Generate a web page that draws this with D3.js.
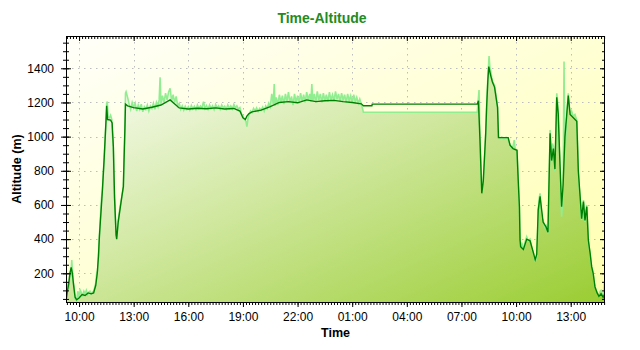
<!DOCTYPE html>
<html>
<head>
<meta charset="utf-8">
<script src="https://cdn.jsdelivr.net/npm/d3@7"></script>
<style>
  body { margin: 0; background: #fff; }
  svg { display: block; font-family: 'Liberation Sans', Arial, sans-serif; }
  .tick text { font-size: 12px; fill: #000; }
  .tick line { stroke: #000; }
</style>
</head>
<body>
<svg id="chart" width="640" height="350"></svg>
<script>
'use strict';

// chart texts
const chartTitle = 'Time-Altitude';
const xTitle = 'Time';
const yTitle = 'Altitude (m)';

// time window shown: [HH:MM, day]
const timeWindow = [['09:17', 0], ['14:53', 1]];
const altitudeWindow = [32, 1589];
const altitudeMajorStep = 200;
const altitudeMinorStep = 50;

// light green series: [HH:MM, metres], rolls over midnight once
const altitudeA = [
  ['09:17', 40], ['09:20', 95], ['09:24', 150], ['09:27', 110], ['09:30', 210], ['09:33', 180],
  ['09:36', 278], ['09:40', 160], ['09:44', 120], ['09:47', 50], ['09:52', 40], ['09:56', 95],
  ['10:00', 60], ['10:04', 100], ['10:08', 85], ['10:12', 70], ['10:16', 95], ['10:20', 80],
  ['10:24', 100], ['10:28', 75], ['10:32', 90], ['10:36', 95], ['10:40', 80], ['10:44', 90],
  ['10:48', 95], ['10:52', 120], ['10:55', 143], ['10:58', 200], ['11:01', 215], ['11:04', 307],
  ['11:07', 414], ['11:10', 520], ['11:14', 640], ['11:17', 688], ['11:20', 786], ['11:23', 880],
  ['11:26', 980], ['11:29', 1100], ['11:31', 1195], ['11:33', 1205], ['11:36', 1115], ['11:40', 1110],
  ['11:44', 1125], ['11:48', 1100], ['11:50', 1010], ['11:53', 941], ['11:55', 746], ['12:00', 512],
  ['12:02', 424], ['12:04', 414], ['12:06', 440], ['12:09', 512], ['12:15', 590], ['12:21', 649],
  ['12:26', 707], ['12:28', 844], ['12:31', 1039], ['12:33', 1254], ['12:35', 1263],
  ['12:40', 1230], ['12:45', 1190], ['12:50', 1160], ['12:55', 1200], ['13:00', 1170], ['13:05', 1195],
  ['13:10', 1150], ['13:15', 1185], ['13:20', 1160], ['13:25', 1190], ['13:30', 1145], ['13:35', 1175],
  ['13:40', 1160], ['13:45', 1185], ['13:50', 1150], ['13:55', 1180], ['14:00', 1165], ['14:05', 1195],
  ['14:10', 1160], ['14:15', 1200], ['14:20', 1175], ['14:24', 1215], ['14:27', 1348], ['14:30', 1190],
  ['14:35', 1240], ['14:40', 1200], ['14:45', 1255], ['14:50', 1215], ['14:55', 1260], ['15:00', 1283],
  ['15:05', 1210], ['15:10', 1245], ['15:15', 1200], ['15:20', 1235], ['15:25', 1180], ['15:30', 1195],
  ['15:35', 1160], ['15:40', 1180], ['15:45', 1155], ['15:50', 1178], ['15:55', 1160], ['16:00', 1175],
  ['16:05', 1155], ['16:10', 1182], ['16:15', 1162], ['16:20', 1178], ['16:25', 1158], ['16:30', 1185],
  ['16:35', 1165], ['16:40', 1180], ['16:45', 1168], ['16:50', 1205], ['16:55', 1165], ['17:00', 1182],
  ['17:05', 1160], ['17:10', 1185], ['17:15', 1165], ['17:20', 1180], ['17:25', 1158], ['17:30', 1188],
  ['17:35', 1168], ['17:40', 1180], ['17:45', 1160], ['17:50', 1185], ['17:55', 1168], ['18:00', 1178],
  ['18:05', 1160], ['18:10', 1185], ['18:15', 1165], ['18:20', 1180], ['18:25', 1162], ['18:30', 1188],
  ['18:35', 1168], ['18:40', 1180], ['18:45', 1160], ['18:50', 1170], ['18:55', 1135], ['19:00', 1120],
  ['19:05', 1100], ['19:10', 1090], ['19:13', 1058], ['19:17', 1110], ['19:20', 1125], ['19:25', 1150],
  ['19:30', 1140], ['19:35', 1165], ['19:40', 1150], ['19:45', 1168], ['19:50', 1148], ['19:55', 1165],
  ['20:00', 1155], ['20:05', 1172], ['20:10', 1150], ['20:15', 1180], ['20:20', 1165], ['20:25', 1195],
  ['20:30', 1175], ['20:35', 1250], ['20:40', 1190], ['20:43', 1308], ['20:46', 1180], ['20:50', 1230],
  ['20:55', 1185], ['21:00', 1245], ['21:05', 1200], ['21:10', 1240], ['21:15', 1190], ['21:20', 1250],
  ['21:25', 1205], ['21:30', 1260], ['21:35', 1200], ['21:40', 1235], ['21:45', 1185], ['21:50', 1250],
  ['21:55', 1200], ['22:00', 1240], ['22:05', 1195], ['22:10', 1255], ['22:15', 1205], ['22:20', 1245],
  ['22:25', 1200], ['22:30', 1260], ['22:35', 1215], ['22:40', 1250], ['22:44', 1205], ['22:47', 1308],
  ['22:50', 1210], ['22:55', 1250], ['23:00', 1200], ['23:05', 1265], ['23:10', 1215], ['23:15', 1250],
  ['23:20', 1200], ['23:25', 1255], ['23:30', 1210], ['23:35', 1245], ['23:40', 1205], ['23:45', 1260],
  ['23:50', 1215], ['23:55', 1245], ['00:00', 1210], ['00:05', 1265], ['00:10', 1220], ['00:15', 1250],
  ['00:20', 1205], ['00:25', 1255], ['00:30', 1215], ['00:35', 1245], ['00:40', 1200], ['00:45', 1250],
  ['00:50', 1210], ['00:55', 1240], ['01:00', 1200], ['01:05', 1245], ['01:10', 1205], ['01:15', 1230],
  ['01:20', 1195], ['01:25', 1220], ['01:30', 1190], ['01:34', 1165], ['01:37', 1143], ['07:52', 1143],
  ['07:58', 1273], ['08:01', 1000], ['08:04', 820], ['08:07', 690], ['08:10', 720], ['08:12', 746],
  ['08:15', 844], ['08:20', 1021], ['08:23', 1175], ['08:27', 1346], ['08:31', 1472], ['08:34', 1400],
  ['08:36', 1390], ['08:40', 1345], ['08:42', 1330], ['08:46', 1310], ['08:49', 1300], ['08:52', 1270],
  ['08:54', 1240], ['08:59', 1175], ['09:02', 1000], ['09:07', 990], ['09:13', 998], ['09:20', 985],
  ['09:27', 995], ['09:34', 980], ['09:40', 955], ['09:45', 930], ['09:50', 945], ['09:54', 980],
  ['09:57', 930], ['10:03', 920], ['10:07', 746], ['10:11', 590], ['10:13', 395], ['10:15', 356],
  ['10:19', 380], ['10:24', 337], ['10:29', 380], ['10:35', 414], ['10:40', 390], ['10:46', 400],
  ['10:52', 350], ['10:57', 319], ['11:03', 268], ['11:08', 300], ['11:11', 420], ['11:13', 571],
  ['11:16', 640], ['11:19', 668], ['11:22', 580], ['11:26', 520], ['11:29', 512], ['11:34', 470],
  ['11:39', 480], ['11:45', 434], ['11:49', 700], ['11:52', 1039], ['11:55', 900], ['11:57', 850],
  ['12:00', 960], ['12:03', 941], ['12:06', 820], ['12:08', 800], ['12:11', 1000], ['12:14', 1254],
  ['12:17', 1200], ['12:19', 1138], ['12:22', 950], ['12:25', 824], ['12:28', 650], ['12:30', 531],
  ['12:33', 620], ['12:35', 700], ['12:38', 1439], ['12:40', 1000], ['12:41', 900], ['12:44', 1000],
  ['12:48', 1150], ['12:52', 1254], ['12:55', 1180], ['12:58', 1137], ['13:03', 1150], ['13:08', 1120],
  ['13:14', 1130], ['13:20', 1097], ['13:23', 950], ['13:25', 800], ['13:28', 700], ['13:31', 649],
  ['13:33', 560], ['13:36', 512], ['13:39', 560], ['13:42', 629], ['13:45', 560], ['13:47', 500],
  ['13:50', 560], ['13:53', 600], ['13:56', 480], ['13:58', 395], ['14:01', 350], ['14:04', 317],
  ['14:07', 260], ['14:09', 239], ['14:12', 220], ['14:14', 200], ['14:17', 150], ['14:20', 122],
  ['14:24', 100], ['14:27', 90], ['14:30', 75], ['14:33', 70], ['14:37', 95], ['14:40', 100],
  ['14:44', 80], ['14:47', 65], ['14:49', 90], ['14:51', 151],
];

// dark green series, smoother, sits above the light one during the gap
const altitudeB = [
  ['09:17', 35], ['09:22', 100], ['09:26', 140], ['09:30', 200], ['09:34', 235], ['09:38', 200],
  ['09:42', 130], ['09:47', 60], ['09:52', 45], ['10:00', 55], ['10:10', 75], ['10:20', 70],
  ['10:30', 85], ['10:40', 80], ['10:48', 85], ['10:55', 130], ['11:00', 200], ['11:04', 300],
  ['11:07', 414], ['11:17', 688], ['11:23', 880], ['11:29', 1100], ['11:31', 1180], ['11:34', 1100],
  ['11:44', 1097], ['11:49', 1080], ['11:53', 941], ['11:57', 640], ['12:02', 424], ['12:04', 400],
  ['12:09', 500], ['12:21', 649], ['12:26', 707], ['12:28', 844], ['12:31', 1039], ['12:33', 1190],
  ['12:40', 1180], ['13:00', 1170], ['13:30', 1162], ['14:00', 1172], ['14:30', 1185], ['15:00', 1215],
  ['15:30', 1168], ['16:00', 1162], ['16:30', 1166], ['17:00', 1163], ['17:30', 1168], ['18:00', 1162],
  ['18:30', 1165], ['18:50', 1150], ['19:00', 1110], ['19:08', 1100], ['19:13', 1120], ['19:20', 1135],
  ['19:30', 1145], ['20:00', 1155], ['20:30', 1175], ['21:00', 1200], ['21:30', 1205], ['22:00', 1198],
  ['22:30', 1215], ['23:00', 1205], ['23:30', 1210], ['00:00', 1212], ['00:30', 1205], ['01:00', 1200],
  ['01:30', 1192], ['01:37', 1181], ['02:05', 1181], ['02:06', 1190], ['07:52', 1190], ['07:56', 1210],
  ['08:01', 980], ['08:07', 668], ['08:12', 740], ['08:15', 844], ['08:20', 1021], ['08:23', 1175],
  ['08:27', 1330], ['08:30', 1410], ['08:36', 1360], ['08:42', 1320], ['08:49', 1290], ['08:54', 1230],
  ['08:59', 1170], ['09:02', 995], ['09:34', 994], ['09:40', 950], ['09:50', 930], ['10:03', 920],
  ['10:07', 746], ['10:11', 590], ['10:13', 395], ['10:15', 356], ['10:24', 340], ['10:35', 400],
  ['10:46', 390], ['10:57', 320], ['11:03', 280], ['11:08', 310], ['11:13', 571], ['11:19', 650],
  ['11:29', 500], ['11:39', 470], ['11:45', 440], ['11:52', 1020], ['11:57', 860], ['12:03', 930],
  ['12:08', 810], ['12:14', 1230], ['12:19', 1130], ['12:25', 820], ['12:30', 590], ['12:35', 720],
  ['12:41', 1000], ['12:52', 1240], ['12:58', 1130], ['13:20', 1090], ['13:25', 800], ['13:31', 649],
  ['13:36', 520], ['13:42', 620], ['13:47', 510], ['13:53', 590], ['13:58', 395], ['14:04', 317],
  ['14:09', 239], ['14:14', 200], ['14:20', 120], ['14:27', 85], ['14:33', 65], ['14:40', 80],
  ['14:47', 60], ['14:51', 75],
];

// plot box inside the 640x350 window
const box = { left: 66, right: 605, top: 36, bottom: 302 };

const parseStamp = d3.timeParse('%Y-%m-%d %H:%M');
const stamp = (hm, day) => d3.timeDay.offset(parseStamp('2020-06-01 ' + hm), day);
// turn [HH:MM, value] rows into dates, adding a day whenever the clock goes backwards
const withDays = function (rows) {
  let day = 0;
  let prev = -1;
  return rows.map(([hm, v]) => {
    const t = stamp(hm, 0);
    const m = t.getHours() * 60 + t.getMinutes();
    if (m < prev) day += 1;
    prev = m;
    return { t: d3.timeDay.offset(t, day), v };
  });
};

const seriesA = withDays(altitudeA);
const seriesB = withDays(altitudeB);
const domainT = timeWindow.map(([hm, day]) => stamp(hm, day));

const x = d3.scaleTime().domain(domainT).range([box.left, box.right]);
const y = d3.scaleLinear().domain(altitudeWindow).range([box.bottom, box.top]);

const xMajor = x.ticks(d3.timeHour.filter((d) => d.getHours() % 3 === 1));
const xMinor = x.ticks(d3.timeMinute.every(10));
const yMajor = d3.range(altitudeMajorStep, altitudeWindow[1], altitudeMajorStep);
const yMinor = d3.range(altitudeMinorStep, altitudeWindow[1], altitudeMinorStep);

const svg = d3.select('#chart');
const defs = svg.append('defs');

// diagonal gradients, both in the box of the shape they fill
const grad = function (id, from, to) {
  const g = defs.append('linearGradient').attr('id', id)
    .attr('x1', 0).attr('y1', 0).attr('x2', 1).attr('y2', 1);
  g.append('stop').attr('offset', 0).attr('stop-color', from);
  g.append('stop').attr('offset', 1).attr('stop-color', to);
};
grad('bgGrad', '#fffffa', '#ffffb0');
grad('areaGrad', '#ffffff', '#9acd32');

defs.append('clipPath').attr('id', 'plotClip')
  .append('rect')
  .attr('x', box.left).attr('y', box.top)
  .attr('width', box.right - box.left).attr('height', box.bottom - box.top);

// plot background
svg.append('rect')
  .attr('x', box.left).attr('y', box.top)
  .attr('width', box.right - box.left).attr('height', box.bottom - box.top)
  .attr('fill', 'url(#bgGrad)');

// dotted grid at the labelled ticks
const grid = svg.append('g').attr('stroke', '#bdbdbd').attr('stroke-dasharray', '1.5,4.5');
grid.selectAll('line.gx')
  .data(xMajor)
  .join('line')
  .attr('class', 'gx')
  .attr('x1', (d) => Math.round(x(d)) + 0.5).attr('x2', (d) => Math.round(x(d)) + 0.5)
  .attr('y1', box.top).attr('y2', box.bottom);
grid.selectAll('line.gy')
  .data(yMajor)
  .join('line')
  .attr('class', 'gy')
  .attr('y1', (d) => Math.round(y(d)) + 0.5).attr('y2', (d) => Math.round(y(d)) + 0.5)
  .attr('x1', box.left).attr('x2', box.right);

const plot = svg.append('g').attr('clip-path', 'url(#plotClip)');

// area under the light green series
plot.append('path')
  .datum(seriesA)
  .attr('fill', 'url(#areaGrad)')
  .attr('d', d3.area().x((d) => x(d.t)).y0(box.bottom).y1((d) => y(d.v)));

const line = d3.line().x((d) => x(d.t)).y((d) => y(d.v));
plot.append('path')
  .datum(seriesA)
  .attr('fill', 'none')
  .attr('stroke', '#90ee90')
  .attr('stroke-width', 1.6)
  .attr('d', line);
plot.append('path')
  .datum(seriesB)
  .attr('fill', 'none')
  .attr('stroke', '#008000')
  .attr('stroke-width', 1.4)
  .attr('d', line);

// axes: ticks only, the frame is drawn separately
const noDomain = (g) => g.select('.domain').remove();
const addAxis = function (axis, tx, ty) {
  svg.append('g').attr('transform', `translate(${tx},${ty})`).call(axis).call(noDomain);
};
const fmt = d3.timeFormat('%H:%M');

// bottom: outward ticks with labels
addAxis(d3.axisBottom(x).tickValues(xMinor).tickSize(3).tickFormat(''), 0, box.bottom);
addAxis(d3.axisBottom(x).tickValues(xMajor).tickSize(5).tickPadding(5).tickFormat(fmt), 0, box.bottom);
// top: inward ticks
addAxis(d3.axisBottom(x).tickValues(xMinor).tickSize(3).tickFormat(''), 0, box.top);
addAxis(d3.axisBottom(x).tickValues(xMajor).tickSize(5).tickFormat(''), 0, box.top);
// left: ticks cross the axis line
addAxis(d3.axisLeft(y).tickValues(yMinor).tickSize(3).tickFormat(''), box.left, 0);
addAxis(d3.axisRight(y).tickValues(yMinor).tickSize(3).tickFormat(''), box.left, 0);
addAxis(d3.axisLeft(y).tickValues(yMajor).tickSize(5).tickPadding(7).tickFormat(d3.format('d')), box.left, 0);
addAxis(d3.axisRight(y).tickValues(yMajor).tickSize(5).tickFormat(''), box.left, 0);
// right: inward ticks
addAxis(d3.axisLeft(y).tickValues(yMinor).tickSize(3).tickFormat(''), box.right, 0);
addAxis(d3.axisLeft(y).tickValues(yMajor).tickSize(5).tickFormat(''), box.right, 0);

// frame
svg.append('rect')
  .attr('x', box.left + 0.5).attr('y', box.top + 0.5)
  .attr('width', box.right - box.left - 1).attr('height', box.bottom - box.top)
  .attr('fill', 'none')
  .attr('stroke', '#000');

// titles
svg.append('text')
  .attr('x', 322).attr('y', 23)
  .attr('text-anchor', 'middle')
  .attr('font-size', 14).attr('font-weight', 'bold')
  .attr('fill', '#228b22')
  .text(chartTitle);
svg.append('text')
  .attr('x', (box.left + box.right) / 2).attr('y', 337)
  .attr('text-anchor', 'middle')
  .attr('font-size', 12.5).attr('font-weight', 'bold')
  .text(xTitle);
svg.append('text')
  .attr('transform', `translate(21,${(box.top + box.bottom) / 2}) rotate(-90)`)
  .attr('text-anchor', 'middle')
  .attr('font-size', 12.5).attr('font-weight', 'bold')
  .text(yTitle);
</script>
</body>
</html>
